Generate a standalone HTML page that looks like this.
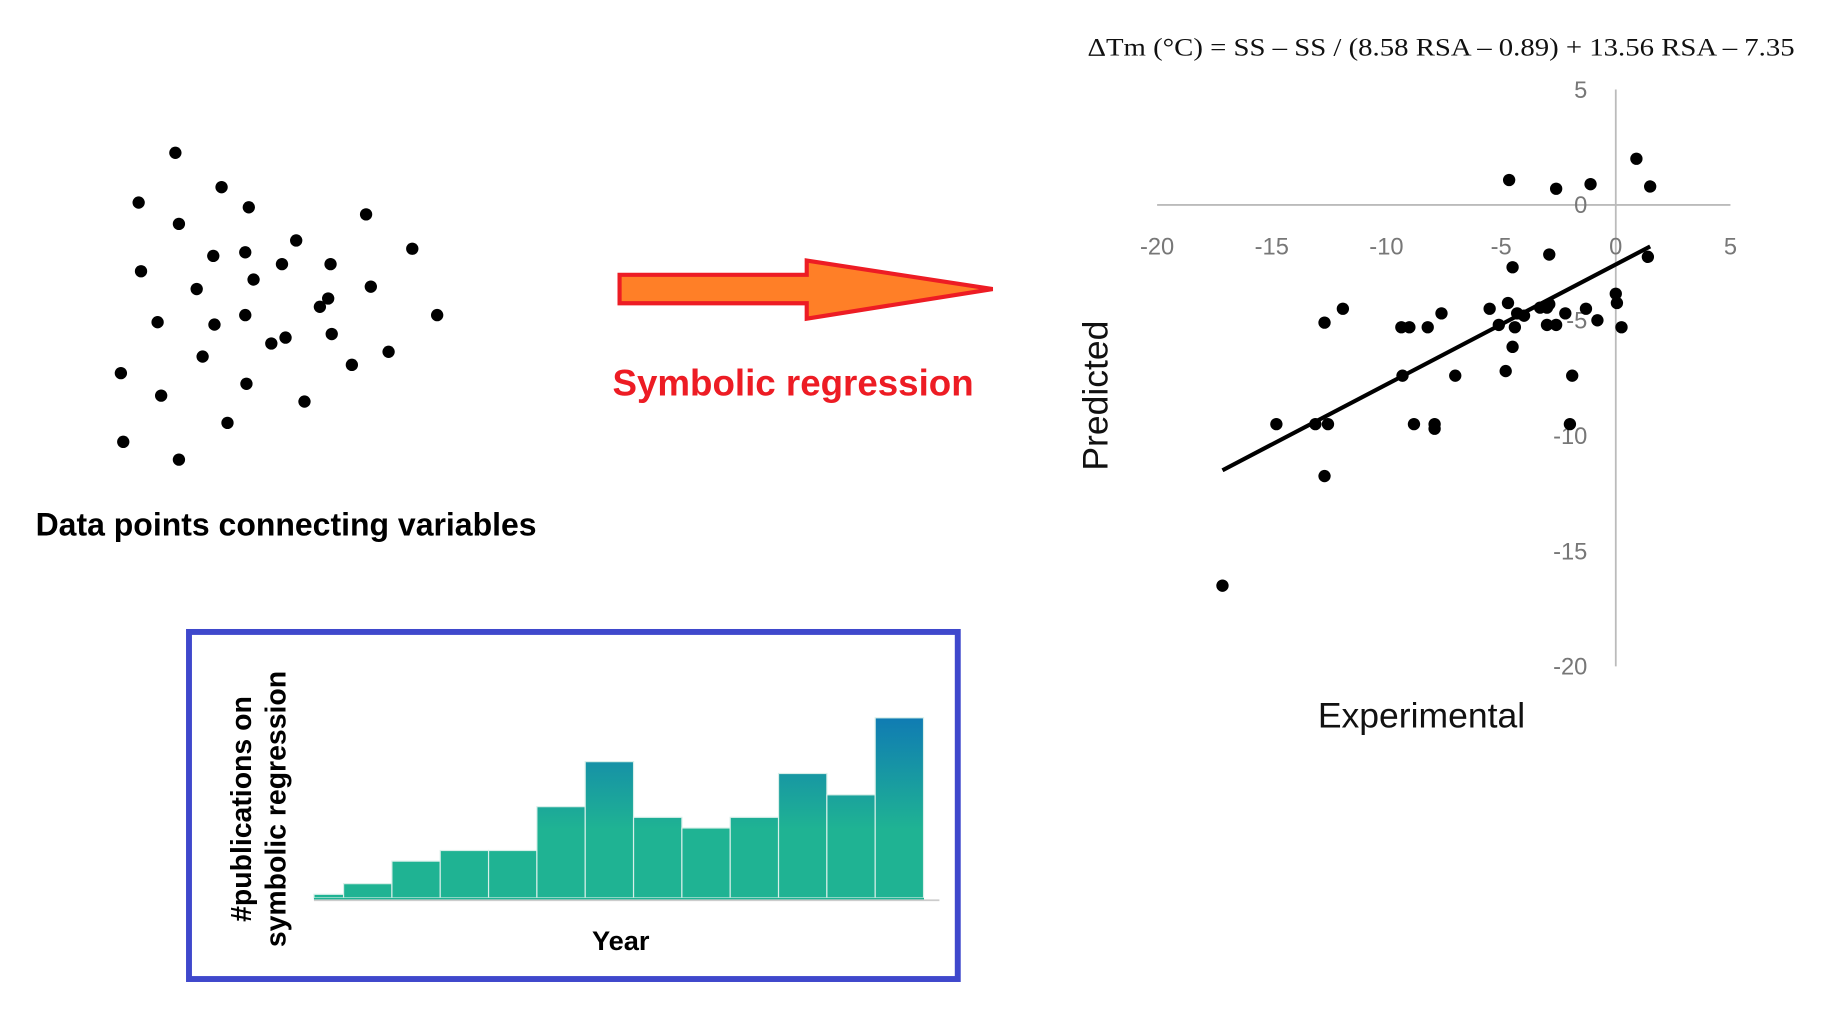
<!DOCTYPE html>
<html><head><meta charset="utf-8"><style>html,body{margin:0;padding:0;background:#fff;}svg{display:block;}</style></head>
<body>
<svg id="fig" width="1848" height="1036" viewBox="0 0 1560 874.6" xmlns="http://www.w3.org/2000/svg">
<defs>
<linearGradient id="barGrad" gradientUnits="userSpaceOnUse" x1="0" y1="600" x2="0" y2="700">
<stop offset="0" stop-color="#0f78b5"/><stop offset="1" stop-color="#1fb393"/>
</linearGradient>
</defs>
<g id="left-dots"></g>
<text x="30" y="452" font-family="Liberation Sans, sans-serif" font-weight="bold" font-size="27" fill="#000">Data points connecting variables</text>
<polygon points="523,232 681,232 681,220 838,244 681,269 681,256 523,256" fill="#ff7f27" stroke="#ed1c24" stroke-width="3.5"/>
<text x="517" y="334" font-family="Liberation Sans, sans-serif" font-weight="bold" font-size="31" fill="#ed1c24">Symbolic regression</text>
<rect x="159.5" y="533.5" width="649" height="293" fill="none" stroke="#3f48cc" stroke-width="5"/>
<g id="hist"></g>
<line x1="265" y1="760" x2="793" y2="760" stroke="#ccc" stroke-width="1.5"/>
<g font-family="Liberation Sans, sans-serif" font-weight="bold" font-size="24" fill="#000">
<text transform="translate(212,683) rotate(-90)" text-anchor="middle">#publications on</text>
<text transform="translate(241,683) rotate(-90)" text-anchor="middle">symbolic regression</text>
</g>
<text x="524" y="802" text-anchor="middle" font-family="Liberation Sans, sans-serif" font-weight="bold" font-size="23">Year</text>
<text x="918" y="47" font-family="Liberation Serif, serif" font-size="21" textLength="597" lengthAdjust="spacingAndGlyphs" fill="#111">ΔTm (°C) = SS – SS / (8.58 RSA – 0.89) + 13.56 RSA – 7.35</text>
<g id="scatter"></g>
<text transform="translate(935,334) rotate(-90)" text-anchor="middle" font-family="Liberation Sans, sans-serif" font-size="30" fill="#111">Predicted</text>
<text x="1200" y="614" text-anchor="middle" font-family="Liberation Sans, sans-serif" font-size="30" fill="#111">Experimental</text>
</svg>
<script>
const NS="http://www.w3.org/2000/svg";
const leftX=[148,187,117,210,151,309,180,207,250,348,238,279,119,214,166,313,277,270,133,181,207,369,241,229,280,171,328,297,102,208,136,257,192,104,151];
const leftY=[129,158,171,175,189,181,216,213,203,210,223,223,229,236,244,242,252,259,272,274,266,266,285,290,282,301,297,308,315,324,334,339,357,373,388];
const histValues=[3,12,31,40,40,77,115,68,59,68,105,87,152];
const expX=[-4.65,-2.6,-1.1,0.9,1.5,-2.9,-4.5,1.4,0,0.05,0.25,-0.8,-1.3,-2.2,-3.0,-2.9,-3.3,-2.6,-3.0,-4.0,-4.3,-4.4,-4.7,-5.1,-5.5,-4.5,-4.8,-1.9,-2.0,-7.0,-9.3,-7.6,-8.2,-9.35,-9.0,-11.9,-12.7,-8.8,-7.9,-7.9,-14.8,-13.1,-12.55,-12.7,-17.15];
const predY=[1.08,0.7,0.9,2.0,0.8,-2.15,-2.7,-2.25,-3.85,-4.25,-5.3,-5.0,-4.5,-4.7,-4.45,-4.3,-4.45,-5.2,-5.2,-4.8,-4.7,-5.3,-4.25,-5.2,-4.5,-6.15,-7.2,-7.4,-9.5,-7.4,-7.4,-4.7,-5.3,-5.3,-5.3,-4.5,-5.1,-9.5,-9.5,-9.7,-9.5,-9.5,-9.5,-11.75,-16.5];
const fitX=[-17.15,1.5];
const fitY=[-11.5,-1.8];
const xTicks=[-20,-15,-10,-5,0,5];
const yTicks=[5,0,-5,-10,-15,-20];
function mk(t,a,p){const e=document.createElementNS(NS,t);for(const k in a)e.setAttribute(k,a[k]);p.appendChild(e);return e;}
const ld=document.getElementById('left-dots');
leftX.forEach((x,i)=>{const c=mk('circle',{cx:x,cy:leftY[i],r:5.2,fill:'#000'},ld);

});
const hg=document.getElementById('hist');
const base=758, unit=1;
function bx(i){return i===0?265:290+(i-1)*40.8;}
function bw(i){return i===0?25:40.8;}
histValues.forEach((v,i)=>{const r=mk('rect',{x:bx(i),y:base-v*unit,width:bw(i),height:v*unit,fill:'url(#barGrad)',stroke:'#d8efe9','stroke-width':1},hg);

});
mk('line',{x1:265,y1:759,x2:780,y2:759,stroke:'#1fb393','stroke-width':2},hg);
const sg=document.getElementById('scatter');
const sx=v=>1364+v*19.36, sy=v=>173-v*19.48;
const ax1=mk('line',{x1:sx(-20),y1:sy(0),x2:sx(5),y2:sy(0),stroke:'#bbb','stroke-width':1.5},sg);


const ax2=mk('line',{x1:sx(0),y1:sy(5),x2:sx(0),y2:sy(-20),stroke:'#bbb','stroke-width':1.5},sg);


xTicks.forEach(t=>{const e=mk('text',{x:sx(t),y:215,'text-anchor':'middle','font-family':'Liberation Sans, sans-serif','font-size':20,fill:'#777'},sg);e.textContent=t;

});
yTicks.forEach(t=>{const e=mk('text',{x:1340,y:sy(t)+7,'text-anchor':'end','font-family':'Liberation Sans, sans-serif','font-size':20,fill:'#777'},sg);e.textContent=t;

});
expX.forEach((x,i)=>{const c=mk('circle',{cx:sx(x),cy:sy(predY[i]),r:5.2,fill:'#000'},sg);

});
const fl=mk('line',{x1:sx(fitX[0]),y1:sy(fitY[0]),x2:sx(fitX[1]),y2:sy(fitY[1]),stroke:'#000','stroke-width':3.5},sg);


</script>
</body></html>
